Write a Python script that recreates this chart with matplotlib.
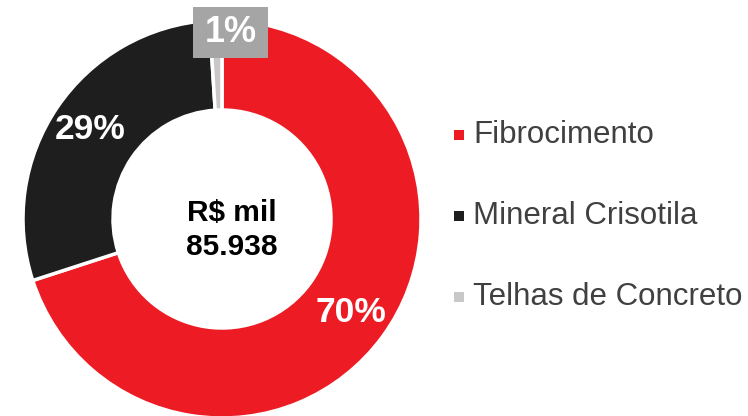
import numpy as np
import matplotlib
matplotlib.use('Agg')
import matplotlib.pyplot as plt
from matplotlib.patches import Rectangle

# data
categories = ['Fibrocimento', 'Mineral Crisotila', 'Telhas de Concreto']
shares = [70, 29, 1]
colors = ['#ED1C24', '#1E1E1E', '#C8C8C8']
center_label = 'R$ mil\n85.938'

plt.rcParams['font.family'] = ['Liberation Sans', 'DejaVu Sans']

W, H = 748, 416
fig = plt.figure(figsize=(W / 100, H / 100), dpi=100)
ax = fig.add_axes([0, 0, 1, 1])

cx, cy, R, r_in = 222, H - 219, 199, 109
wedges, _ = ax.pie(shares, colors=colors, startangle=90, counterclock=False,
                   radius=R, center=(cx, cy),
                   wedgeprops=dict(width=R - r_in, edgecolor='white', linewidth=2.5))
ax.set_xlim(0, W)
ax.set_ylim(0, H)
ax.set_aspect('equal', adjustable='datalim')
ax.axis('off')

# percentage labels
r_mid = (R + r_in) / 2 + 5
for w, s in zip(wedges, shares):
    ang = np.deg2rad((w.theta1 + w.theta2) / 2)
    if s < 5:
        # small slice: label in a grey box above the ring
        ax.add_patch(Rectangle((193, H - 58), 75, 51, fc='#A6A5A5', ec='none', zorder=3))
        ax.text(230.5, H - 33, f'{s}%', ha='center', va='center', color='white',
                fontsize=26, fontweight='bold', zorder=4)
    else:
        ax.text(cx + r_mid * np.cos(ang), cy + r_mid * np.sin(ang), f'{s}%',
                ha='center', va='center', color='white', fontsize=25.5, fontweight='bold')

ax.text(cx + 10, cy - 11, center_label, ha='center', va='center', color='black',
        fontsize=21.5, fontweight='bold', linespacing=1.25)

# legend
for i, (lab, col) in enumerate(zip(categories, colors)):
    y = H - 135 - i * 81
    ax.scatter([459], [y], marker='s', s=55, color=col, linewidths=0)
    ax.text(473, y, lab, ha='left', va='center', color='#404040', fontsize=22.5)

fig.savefig('out.png', dpi=100)
